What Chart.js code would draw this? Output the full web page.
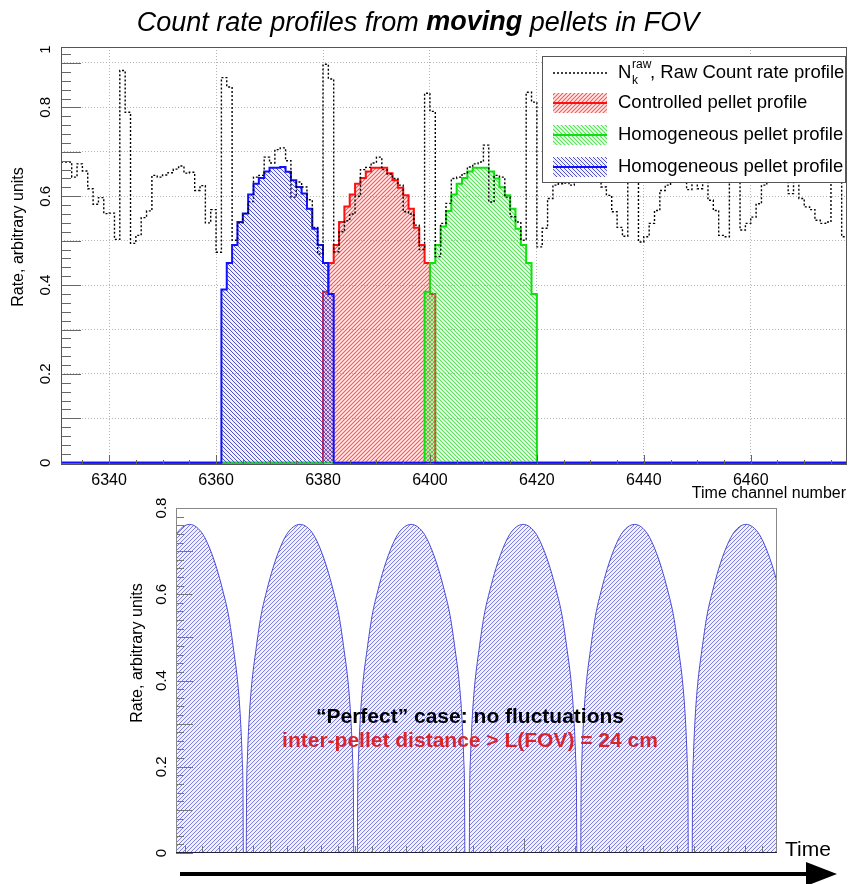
<!DOCTYPE html>
<html>
<head>
<meta charset="utf-8">
<script src="https://cdn.jsdelivr.net/npm/chart.js@4.4.0/dist/chart.umd.min.js"></script>
<style>
  html, body { margin: 0; padding: 0; background: #fff; }
  #page { position: relative; width: 849px; height: 884px; overflow: hidden; }
  canvas { position: absolute; left: 0; }
  #top { top: 0; }
  #bottom { top: 495px; }
</style>
</head>
<body>
<div id="page">
  <canvas id="top" width="849" height="500"></canvas>
  <canvas id="bottom" width="849" height="389"></canvas>
</div>
<script>
// ---- top panel data (time channel histograms) ----
var xMin = 6331, xMax = 6478;
var xTickLabels = [6340, 6360, 6380, 6400, 6420, 6440, 6460];
var topYTickValues = [0, 0.2, 0.4, 0.6, 0.8, 0.93];
var topYTickLabels = ["0", "0.2", "0.4", "0.6", "0.8", "1"];

// raw count rate, one value per channel from 6331
var rawStart = 6331;
var rawValues = [
    0.677, 0.677, 0.643, 0.673, 0.657, 0.617, 0.582, 0.597, 0.561, 0.562,
    0.503, 0.883, 0.789, 0.494, 0.512, 0.552, 0.567, 0.647, 0.643, 0.648,
    0.653, 0.661, 0.668, 0.652, 0.654, 0.613, 0.624, 0.540, 0.570, 0.474,
    0.867, 0.846, 0.501, 0.540, 0.561, 0.588, 0.643, 0.647, 0.688, 0.675,
    0.705, 0.709, 0.680, 0.598, 0.632, 0.621, 0.592, 0.530, 0.470, 0.897,
    0.864, 0.475, 0.520, 0.545, 0.560, 0.600, 0.660, 0.665, 0.675, 0.688,
    0.660, 0.650, 0.640, 0.625, 0.565, 0.560, 0.535, 0.480, 0.832, 0.791,
    0.464, 0.539, 0.584, 0.640, 0.643, 0.651, 0.666, 0.673, 0.677, 0.715,
    0.587, 0.647, 0.643, 0.598, 0.554, 0.542, 0.501, 0.834, 0.812, 0.486,
    0.528, 0.595, 0.625, 0.628, 0.630, 0.625, 0.645, 0.660, 0.665, 0.650,
    0.640, 0.621, 0.602, 0.565, 0.530, 0.510, 0.850, 0.800, 0.497, 0.509,
    0.539, 0.568, 0.613, 0.625, 0.640, 0.655, 0.660, 0.615, 0.650, 0.617,
    0.640, 0.591, 0.568, 0.512, 0.509, 0.850, 0.800, 0.524, 0.539, 0.553,
    0.583, 0.625, 0.645, 0.660, 0.655, 0.640, 0.606, 0.635, 0.595, 0.576,
    0.570, 0.546, 0.539, 0.542, 0.850, 0.800, 0.509
];

var controlledStart = 6380;
var controlledValues = [0.385, 0.45, 0.49, 0.542, 0.577, 0.604, 0.628, 0.641, 0.656, 0.664, 0.664,
    0.664, 0.652, 0.636, 0.619, 0.602, 0.572, 0.529, 0.49, 0.45, 0.38];

var greenStart = 6399;
var greenValues = [0.385, 0.45, 0.49, 0.532, 0.567, 0.604, 0.628, 0.641, 0.656, 0.664, 0.664,
    0.664, 0.656, 0.64, 0.62, 0.602, 0.572, 0.527, 0.49, 0.45, 0.38];

var blueStart = 6361;
var blueValues = [0.39, 0.45, 0.49, 0.542, 0.561, 0.604, 0.628, 0.641, 0.656, 0.664, 0.664,
    0.666, 0.655, 0.636, 0.621, 0.606, 0.572, 0.527, 0.49, 0.45, 0.38];

var legendLabels = ["Controlled pellet profile", "Homogeneous pellet profile", "Homogeneous pellet profile"];

// ---- bottom panel data ("perfect" case) ----
var archCenters = [0.27, 6.78, 13.33, 19.93, 26.5, 33.07];
var archOffsets = [-3.17, -3.15, -3.1, -3.0, -2.85, -2.6, -2.3, -1.95, -1.6, -1.2, -0.8, -0.4, 0,
    0.4, 0.8, 1.2, 1.6, 1.95, 2.3, 2.6, 2.85, 3.0, 3.1, 3.15, 3.17];
var archRates = [0, 0.14, 0.22, 0.31, 0.39, 0.47, 0.55, 0.61, 0.66, 0.705, 0.738, 0.756, 0.762,
    0.756, 0.738, 0.705, 0.66, 0.61, 0.55, 0.47, 0.39, 0.31, 0.22, 0.14, 0];
var bottomYTickValues = [0, 0.2, 0.4, 0.6, 0.8];
var bottomYTickLabels = ["0", "0.2", "0.4", "0.6", "0.8"];
var noteLines = ["\u201cPerfect\u201d case: no fluctuations", "inter-pellet distance > L(FOV) = 24 cm"];

var FONT = '"Liberation Sans", Arial, sans-serif';
Chart.defaults.font.family = FONT;

function hatch(ctx, color, tint, forward, size, width) {
    var tile = document.createElement("canvas");
    tile.width = size;
    tile.height = size;
    var g = tile.getContext("2d");
    g.fillStyle = tint;
    g.fillRect(0, 0, size, size);
    g.strokeStyle = color;
    g.lineWidth = width;
    g.beginPath();
    if (forward) {
        g.moveTo(0, size); g.lineTo(size, 0);
        g.moveTo(-1, 1); g.lineTo(1, -1);
        g.moveTo(size - 1, size + 1); g.lineTo(size + 1, size - 1);
    } else {
        g.moveTo(0, 0); g.lineTo(size, size);
        g.moveTo(-1, size - 1); g.lineTo(1, size + 1);
        g.moveTo(size - 1, -1); g.lineTo(size + 1, 1);
    }
    g.stroke();
    return ctx.createPattern(tile, "repeat");
}

function histPoints(start, values) {
    var pts = [{ x: xMin, y: 0 }, { x: start, y: 0 }];
    values.forEach(function (v, i) { pts.push({ x: start + i, y: v }); });
    pts.push({ x: start + values.length, y: 0 });
    pts.push({ x: xMax, y: 0 });
    return pts;
}

function rotatedText(ctx, text, x, y) {
    ctx.save();
    ctx.translate(x, y);
    ctx.rotate(-Math.PI / 2);
    ctx.fillText(text, 0, 0);
    ctx.restore();
}

(function () {
    "use strict";

    var topCtx = document.getElementById("top").getContext("2d");
    var redHatch = hatch(topCtx, "rgba(240,60,60,0.85)", "rgba(255,150,150,0.18)", true, 4, 1.1);
    var greenHatch = hatch(topCtx, "rgba(50,215,50,0.8)", "rgba(150,255,150,0.15)", false, 4, 1.1);
    var blueHatch = hatch(topCtx, "rgba(40,40,190,0.8)", "rgba(150,150,255,0.12)", false, 4, 1);

    var rawPoints = rawValues.map(function (v, i) { return { x: rawStart + i, y: v }; });
    rawPoints.push({ x: rawStart + rawValues.length, y: rawValues[rawValues.length - 1] });

    var topDecor = {
        id: "topDecor",
        afterDatasetsDraw: function (chart) {
            var ctx = chart.ctx, a = chart.chartArea, x = chart.scales.x, y = chart.scales.y;
            ctx.save();
            // axis ticks
            ctx.strokeStyle = "#666";
            ctx.lineWidth = 1;
            ctx.beginPath();
            for (var k = 0; k <= 46; k++) {
                var py = Math.round(y.getPixelForValue(k * 0.02)) + 0.5;
                var len = k % 5 === 0 ? 20 : 10;
                ctx.moveTo(a.left, py);
                ctx.lineTo(a.left + len, py);
            }
            for (var c = 6335; c <= 6475; c += 5) {
                var px = Math.round(x.getPixelForValue(c)) + 0.5;
                var tl = c % 20 === 0 ? 10 : 5;
                ctx.moveTo(px, a.bottom);
                ctx.lineTo(px, a.bottom - tl);
            }
            ctx.stroke();
            ctx.strokeStyle = "#555";
            ctx.strokeRect(a.left + 0.5, a.top + 0.5, a.right - a.left - 1, a.bottom - a.top - 1);

            // y labels and titles
            ctx.fillStyle = "#000";
            ctx.textAlign = "center";
            ctx.textBaseline = "middle";
            ctx.font = "15px " + FONT;
            topYTickValues.forEach(function (v, i) {
                rotatedText(ctx, topYTickLabels[i], 46, y.getPixelForValue(v));
            });
            ctx.font = "16px " + FONT;
            rotatedText(ctx, "Rate, arbitrary units", 19, 237);
            ctx.textAlign = "right";
            ctx.font = "16px " + FONT;
            ctx.fillText("Time channel number", 846, 494);

            // title
            ctx.textAlign = "left";
            var parts = [["Count rate profiles from ", "italic "], ["moving", "italic bold "], [" pellets in FOV", "italic "]];
            var total = 0;
            parts.forEach(function (p) { ctx.font = p[1] + "27px " + FONT; total += ctx.measureText(p[0]).width; });
            var tx = 418 - total / 2;
            parts.forEach(function (p) {
                ctx.font = p[1] + "27px " + FONT;
                ctx.fillText(p[0], tx, 23);
                tx += ctx.measureText(p[0]).width;
            });

            // legend
            ctx.fillStyle = "#fff";
            ctx.fillRect(542, 56, 303, 126);
            ctx.strokeStyle = "#555";
            ctx.strokeRect(542.5, 56.5, 303, 126);
            var rows = [73, 103, 135, 167];
            ctx.strokeStyle = "#000";
            ctx.lineWidth = 1.3;
            ctx.setLineDash([2, 2]);
            ctx.beginPath();
            ctx.moveTo(553, rows[0]);
            ctx.lineTo(607, rows[0]);
            ctx.stroke();
            ctx.setLineDash([]);
            var fills = [redHatch, greenHatch, blueHatch];
            var lines = ["#ff1010", "#10e010", "#1010ff"];
            for (var r = 0; r < 3; r++) {
                ctx.fillStyle = fills[r];
                ctx.fillRect(553, rows[r + 1] - 10, 54, 20);
                ctx.strokeStyle = lines[r];
                ctx.lineWidth = 2;
                ctx.beginPath();
                ctx.moveTo(553, rows[r + 1]);
                ctx.lineTo(607, rows[r + 1]);
                ctx.stroke();
                ctx.fillStyle = "#000";
                ctx.font = "18.5px " + FONT;
                ctx.fillText(legendLabels[r], 618, rows[r + 1]);
            }
            ctx.fillStyle = "#000";
            ctx.font = "18.5px " + FONT;
            ctx.fillText("N", 618, rows[0]);
            ctx.font = "12px " + FONT;
            ctx.fillText("raw", 632, rows[0] - 8);
            ctx.fillText("k", 632, rows[0] + 8);
            ctx.font = "18.5px " + FONT;
            ctx.fillText(", Raw Count rate profile", 650, rows[0]);
            ctx.restore();
        }
    };

    new Chart(topCtx, {
        type: "line",
        data: {
            datasets: [
                {
                    data: rawPoints, stepped: true, borderColor: "#000", borderWidth: 1.4,
                    borderDash: [2, 2], pointRadius: 0, fill: false
                },
                {
                    data: histPoints(blueStart, blueValues), stepped: true, borderColor: "#1010ff",
                    borderWidth: 2, pointRadius: 0, fill: "origin", backgroundColor: blueHatch
                },
                {
                    data: histPoints(greenStart, greenValues), stepped: true, borderColor: "#10e010",
                    borderWidth: 2, pointRadius: 0, fill: "origin", backgroundColor: greenHatch
                },
                {
                    data: histPoints(controlledStart, controlledValues), stepped: true, borderColor: "#ff1010",
                    borderWidth: 2, pointRadius: 0, fill: "origin", backgroundColor: redHatch
                }
            ]
        },
        options: {
            responsive: false,
            animation: false,
            devicePixelRatio: 1,
            layout: { padding: { top: 47, right: 2, left: 0, bottom: 0 } },
            plugins: { legend: { display: false }, tooltip: { enabled: false }, title: { display: false } },
            scales: {
                x: {
                    type: "linear", min: xMin, max: xMax,
                    afterBuildTicks: function (s) { s.ticks = xTickLabels.map(function (v) { return { value: v }; }); },
                    afterFit: function (s) { s.height = 35; },
                    ticks: {
                        autoSkip: false, maxRotation: 0, padding: 6, color: "#000",
                        font: { size: 16 }, callback: function (v) { return String(v); }
                    },
                    grid: { color: "#b4b4b4", lineWidth: 1, drawTicks: false },
                    border: { display: false, dash: [1, 2] }
                },
                y: {
                    type: "linear", min: -0.005, max: 0.936,
                    afterBuildTicks: function (s) {
                        var t = [];
                        for (var i = 1; i <= 9; i++) t.push({ value: i / 10 });
                        s.ticks = t;
                    },
                    afterFit: function (s) { s.width = 61; },
                    ticks: { display: false },
                    grid: { color: "#b4b4b4", lineWidth: 1, drawTicks: false },
                    border: { display: false, dash: [1, 2] }
                }
            }
        },
        plugins: [topDecor]
    });

    // ---- bottom panel ----
    var botCtx = document.getElementById("bottom").getContext("2d");
    var archHatch = hatch(botCtx, "rgb(125,125,230)", "rgba(190,190,245,0.2)", true, 4, 1);
    var archPoints = [];
    archCenters.forEach(function (c) {
        archOffsets.forEach(function (o, i) { archPoints.push({ x: c + o, y: archRates[i] }); });
    });

    var bottomDecor = {
        id: "bottomDecor",
        afterDatasetsDraw: function (chart) {
            var ctx = chart.ctx, a = chart.chartArea, x = chart.scales.x, y = chart.scales.y;
            ctx.save();
            ctx.strokeStyle = "#777";
            ctx.lineWidth = 1;
            ctx.beginPath();
            for (var k = 0; k <= 40; k++) {
                var py = Math.round(y.getPixelForValue(k * 0.02)) + 0.5;
                var len = k % 5 === 0 ? 17 : 8;
                ctx.moveTo(a.left, py);
                ctx.lineTo(a.left + len, py);
            }
            for (var t = 0; t <= 34; t++) {
                var px = Math.round(x.getPixelForValue(t)) + 0.5;
                var tl = (t === 5 || t === 20) ? 14 : 7;
                ctx.moveTo(px, a.bottom);
                ctx.lineTo(px, a.bottom - tl);
            }
            ctx.stroke();
            ctx.strokeStyle = "#888";
            ctx.strokeRect(a.left + 0.5, a.top + 0.5, a.right - a.left - 1, a.bottom - a.top - 1);
            ctx.strokeStyle = "#223";
            ctx.beginPath();
            ctx.moveTo(a.left, a.bottom - 0.5);
            ctx.lineTo(a.right, a.bottom - 0.5);
            ctx.stroke();

            ctx.fillStyle = "#000";
            ctx.textAlign = "center";
            ctx.textBaseline = "middle";
            ctx.font = "15px " + FONT;
            bottomYTickValues.forEach(function (v, i) {
                rotatedText(ctx, bottomYTickLabels[i], 162, y.getPixelForValue(v));
            });
            ctx.font = "16px " + FONT;
            rotatedText(ctx, "Rate, arbitrary units", 138, 158);

            ctx.textAlign = "left";
            ctx.font = "21px " + FONT;
            ctx.fillText("Time", 785, 355);

            // notes
            ctx.textAlign = "center";
            ctx.font = "bold 21px " + FONT;
            ctx.fillStyle = "#000";
            ctx.fillText(noteLines[0], 470, 222);
            ctx.fillStyle = "#dd2424";
            ctx.fillText(noteLines[1], 470, 246);

            // time arrow
            ctx.fillStyle = "#000";
            ctx.fillRect(180, 377, 630, 4);
            ctx.beginPath();
            ctx.moveTo(806, 367);
            ctx.lineTo(837, 379);
            ctx.lineTo(806, 391);
            ctx.closePath();
            ctx.fill();
            ctx.restore();
        }
    };

    new Chart(botCtx, {
        type: "line",
        data: {
            datasets: [{
                data: archPoints, borderColor: "#4a4acc", borderWidth: 1, pointRadius: 0,
                cubicInterpolationMode: "monotone", fill: "origin", backgroundColor: archHatch
            }]
        },
        options: {
            responsive: false,
            animation: false,
            devicePixelRatio: 1,
            layout: { padding: { top: 13, right: 72, left: 0, bottom: 0 } },
            plugins: { legend: { display: false }, tooltip: { enabled: false } },
            scales: {
                x: {
                    type: "linear", min: -0.53, max: 34.9,
                    afterFit: function (s) { s.height = 31; },
                    ticks: { display: false },
                    grid: { display: false },
                    border: { display: false }
                },
                y: {
                    type: "linear", min: 0, max: 0.8,
                    afterFit: function (s) { s.width = 176; },
                    ticks: { display: false },
                    grid: { display: false },
                    border: { display: false }
                }
            }
        },
        plugins: [bottomDecor]
    });
})();
</script>
</body>
</html>
